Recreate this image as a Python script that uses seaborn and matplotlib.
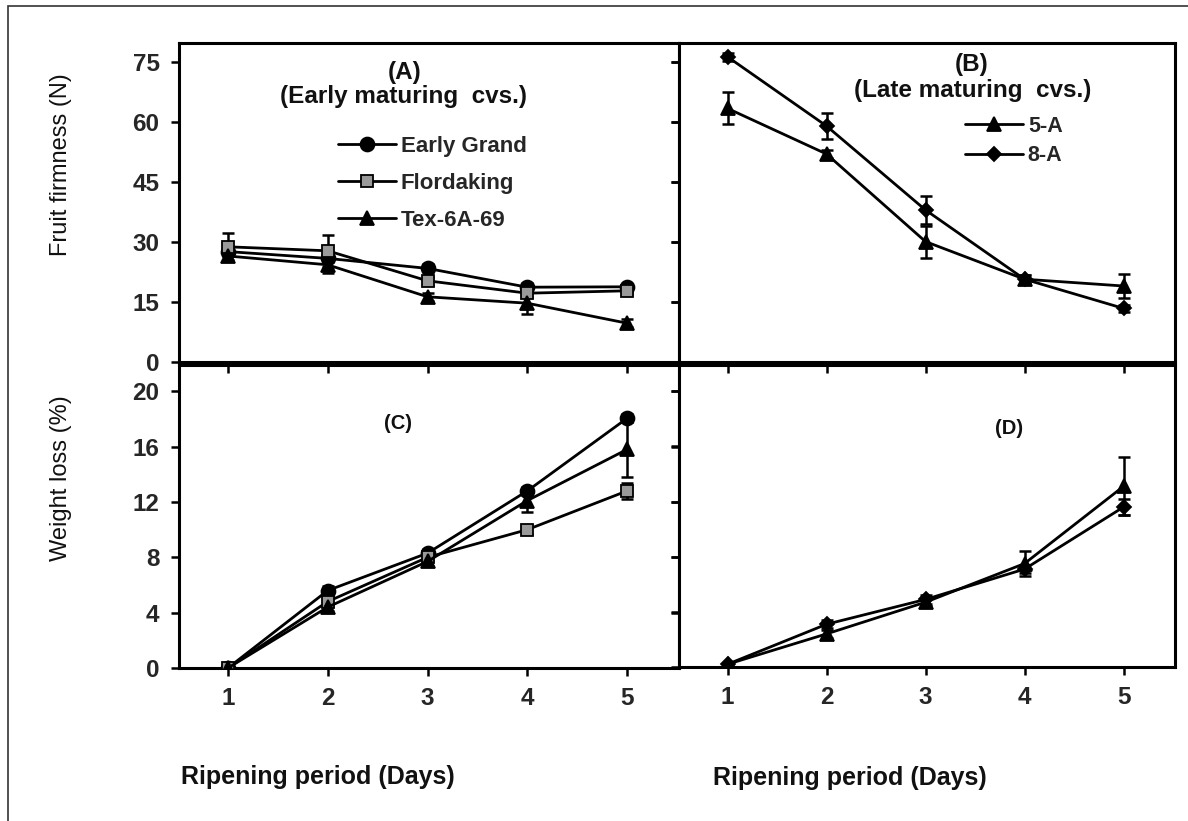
import matplotlib
matplotlib.use("Agg")
import matplotlib.pyplot as plt
import matplotlib.lines as mlines
import seaborn as sns
import pandas as pd
from matplotlib.patches import Rectangle

# ---------------- data ----------------
days = [1, 2, 3, 4, 5]

# (A) fruit firmness, early maturing cvs.
firm_early_grand = [27.6, 25.9, 23.4, 18.7, 18.8]
firm_flordaking = [28.8, 27.8, 20.3, 17.2, 17.8]
firm_tex = [26.5, 24.3, 16.3, 14.7, 9.7]
firm_early_grand_err = [1.0, 1.0, 1.0, 1.0, 0.8]
firm_flordaking_err = [3.5, 4.0, 1.0, 1.0, 0.8]
firm_tex_err = [1.0, 2.0, 1.0, 2.6, 1.0]

# (B) fruit firmness, late maturing cvs.
firm_5a = [63.4, 52.0, 30.1, 20.7, 19.0]
firm_8a = [76.3, 59.0, 38.0, 20.7, 13.4]
firm_5a_err = [4.0, 1.0, 4.0, 1.0, 3.0]
firm_8a_err = [1.0, 3.3, 3.5, 1.0, 0.8]

# (C) weight loss, early maturing cvs.
wl_early_grand = [0.0, 5.6, 8.3, 12.8, 18.05]
wl_flordaking = [0.0, 4.8, 8.0, 10.0, 12.8]
wl_tex = [0.0, 4.4, 7.7, 12.1, 15.8]
wl_early_grand_err = [0.2, 0.3, 0.3, 0.3, 0.3]
wl_flordaking_err = [0.2, 0.3, 0.3, 0.3, 0.6]
wl_tex_err = [0.2, 0.3, 0.3, 0.8, 2.0]

# (D) weight loss, late maturing cvs.
wl_5a = [0.2, 2.4, 4.7, 7.5, 13.1]
wl_8a = [0.2, 3.1, 4.9, 7.1, 11.6]
wl_5a_err = [0.1, 0.3, 0.3, 0.9, 2.1]
wl_8a_err = [0.1, 0.3, 0.3, 0.3, 0.6]

early_names = ["Early Grand", "Flordaking", "Tex-6A-69"]
late_names = ["5-A", "8-A"]
firm_ticks = [0, 15, 30, 45, 60, 75]
wl_ticks = [0, 4, 8, 12, 16, 20]

# ---------------- style ----------------
sns.set_theme(style="ticks")
plt.rcParams["font.family"] = ["Liberation Sans", "DejaVu Sans"]
plt.rcParams["axes.linewidth"] = 2.2

W, H = 1188, 821
fig = plt.figure(figsize=(W / 100, H / 100), dpi=100)


def fx(px):
    return px / W


def fy(py):
    return 1 - py / H


def make_ax(l, t, r, b):
    return fig.add_axes([fx(l), fy(b), fx(r) - fx(l), fy(t) - fy(b)])


axA = make_ax(179, 43, 679, 362)
axB = make_ax(679, 43, 1175, 362)
axC = make_ax(179, 365, 679, 668)
axD = make_ax(679, 365, 1175, 667)

styles = {
    "Early Grand": dict(marker="o", fc="black", ms=10),
    "Flordaking": dict(marker="s", fc="#9a9a9a", ms=8.5),
    "Tex-6A-69": dict(marker="^", fc="black", ms=10),
    "5-A": dict(marker="^", fc="black", ms=10),
    "8-A": dict(marker="D", fc="black", ms=7.5),
}


def draw(ax, names, series, errs):
    for name, vals, err in zip(names, series, errs):
        df = pd.DataFrame({"day": days, "val": vals})
        ax.errorbar(days, vals, yerr=err, fmt="none", ecolor="black",
                    elinewidth=1.8, capsize=4.5, capthick=1.8, zorder=2)
        st = styles[name]
        sns.lineplot(data=df, x="day", y="val", ax=ax, color="black",
                     linewidth=2.0, marker=st["marker"],
                     markerfacecolor=st["fc"], markeredgecolor="black",
                     markeredgewidth=1.3, markersize=st["ms"],
                     label=name, zorder=3)


draw(axA, early_names, [firm_early_grand, firm_flordaking, firm_tex],
     [firm_early_grand_err, firm_flordaking_err, firm_tex_err])
draw(axB, late_names, [firm_5a, firm_8a], [firm_5a_err, firm_8a_err])
draw(axC, early_names, [wl_early_grand, wl_flordaking, wl_tex],
     [wl_early_grand_err, wl_flordaking_err, wl_tex_err])
draw(axD, late_names, [wl_5a, wl_8a], [wl_5a_err, wl_8a_err])
for ax in (axC, axD):
    if ax.get_legend() is not None:
        ax.get_legend().remove()

for ax in (axA, axB, axC, axD):
    ax.set_xlim(0.51, 5.52)
    ax.set_xticks(days)
    ax.set_xlabel("")
    ax.set_ylabel("")
    for s in ax.spines.values():
        s.set_visible(True)
        s.set_linewidth(2.2)
        s.set_color("black")
    ax.tick_params(length=6, width=1.8, color="black")
    ax.set_facecolor("white")

for ax in (axA, axB):
    ax.set_ylim(0, 79.75)
    ax.set_yticks(firm_ticks)
    ax.tick_params(axis="x", bottom=True, direction="out", length=4,
                   labelbottom=False)
for ax in (axC, axD):
    ax.set_ylim(0, 21.9)
    ax.set_yticks(wl_ticks)
    ax.tick_params(axis="x", bottom=True, top=True, direction="out",
                   labelbottom=True, labelsize=17.5, pad=8)
    for lab in ax.get_xticklabels():
        lab.set_fontweight("bold")

for ax in (axA, axC):
    ax.tick_params(axis="y", left=True, right=True, labelleft=True,
                   labelsize=17.5, pad=8)
    for lab in ax.get_yticklabels():
        lab.set_fontweight("bold")
    # right ticks point inward
    for t in ax.yaxis.get_major_ticks():
        t.tick2line.set_marker(mlines.TICKLEFT)
for ax in (axB, axD):
    ax.tick_params(axis="y", left=True, right=False, labelleft=False)
# top ticks of bottom panels point inward
for ax in (axC, axD):
    for t in ax.xaxis.get_major_ticks():
        t.tick2line.set_marker(mlines.TICKDOWN)

# legends
axA.legend(loc="upper left", bbox_to_anchor=(fx(338), fy(136)),
           bbox_transform=fig.transFigure, frameon=False,
           prop=dict(size=16, weight="bold"), handlelength=2.6,
           handletextpad=0.22, labelspacing=0.72, borderpad=0,
           borderaxespad=0)
axB.legend(loc="upper left", bbox_to_anchor=(fx(965), fy(116)),
           bbox_transform=fig.transFigure, frameon=False,
           prop=dict(size=15.5, weight="bold"), handlelength=2.7,
           handletextpad=0.22, labelspacing=0.38, borderpad=0,
           borderaxespad=0)

# panel annotations
txt = dict(ha="center", va="center", fontweight="bold", color="#111111")
fig.text(fx(405), fy(72), "(A)", fontsize=17.5, **txt)
fig.text(fx(404), fy(97), "(Early maturing  cvs.)", fontsize=17.5, **txt)
fig.text(fx(972), fy(65), "(B)", fontsize=17.5, **txt)
fig.text(fx(973), fy(90), "(Late maturing  cvs.)", fontsize=17.5, **txt)
fig.text(fx(398), fy(423), "(C)", fontsize=14.5, **txt)
fig.text(fx(1009), fy(428), "(D)", fontsize=14.5, **txt)

# axis labels
fig.text(fx(61), fy(165), "Fruit firmness (N)", rotation=90, fontsize=17,
         ha="center", va="center", color="#111111")
fig.text(fx(61), fy(478), "Weight loss (%)", rotation=90, fontsize=17,
         ha="center", va="center", color="#111111")
fig.text(fx(318), fy(777), "Ripening period (Days)", fontsize=18,
         ha="center", va="center", fontweight="bold", color="#111111")
fig.text(fx(850), fy(778), "Ripening period (Days)", fontsize=18,
         ha="center", va="center", fontweight="bold", color="#111111")

# outer frame
fig.patches.append(Rectangle((fx(8), -0.01), 1.2, fy(6) + 0.01,
                             transform=fig.transFigure, fill=False,
                             edgecolor="#333333", linewidth=1.2))

fig.savefig("out.png", dpi=100, facecolor="white")
